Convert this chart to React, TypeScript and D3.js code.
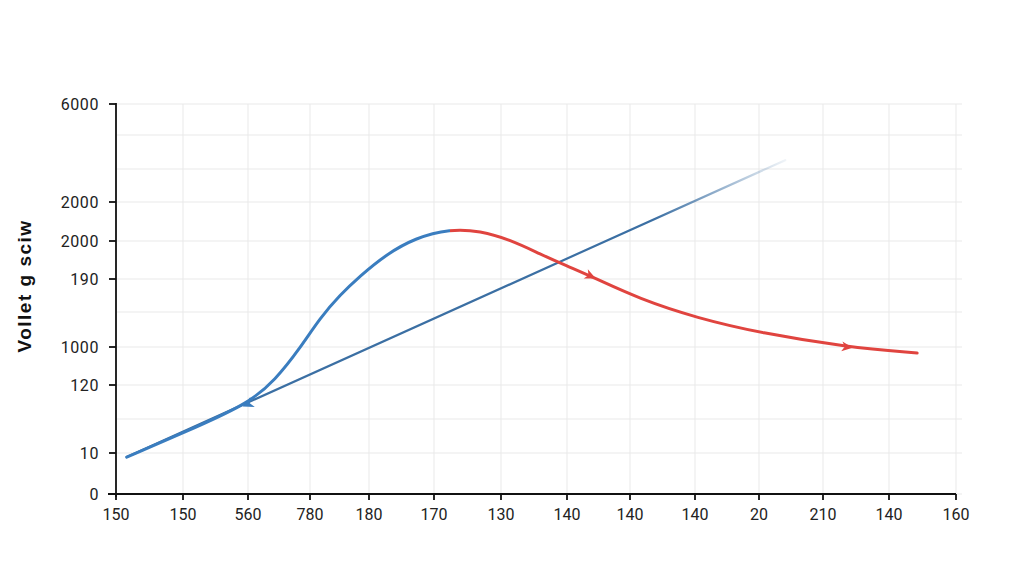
import React from "react";
import * as d3 from "d3";

// ---- data (grid-index units) ----
const xTickLabels = ["150", "150", "560", "780", "180", "170", "130", "140", "140", "140", "20", "210", "140", "160"];
const yTickLabels = ["0", "10", "", "120", "1000", "", "190", "2000", "2000", "", "", "6000"];

const riseX = [0.16, 1.0, 2.0, 2.44, 2.84, 3.17, 3.51, 3.85, 4.25, 4.71, 5.24];
const riseY = [0.9, 1.59, 2.44, 3.13, 3.97, 4.83, 5.52, 6.08, 6.63, 7.08, 7.31];

const fallX = [5.24, 5.69, 6.14, 6.59, 7.0, 7.37, 8.15, 9.03, 10.02, 11.36, 12.42];
const fallY = [7.31, 7.26, 7.03, 6.66, 6.34, 6.08, 5.39, 4.83, 4.4, 4.0, 3.84];

const trendX = [0.16, 10.41];
const trendY = [0.9, 9.26];

const riseArrowIdx = [2];
const fallArrowIdx = [5, 9];

const W = 1024;
const H = 585;

export default function App() {
  // piecewise grid scales (uneven grid spacing as in the original)
  const x = d3
    .scaleLinear()
    .domain(d3.range(14))
    .range([116, 183, 248, 310, 369, 434, 501, 567, 630, 695, 759, 823, 889, 956]);
  const y = d3
    .scaleLinear()
    .domain(d3.range(12))
    .range([494, 453, 419, 385, 347, 312, 279, 241, 202, 169, 135, 104]);

  const rise = riseX.map((v, i) => [v, riseY[i]] as [number, number]);
  const fall = fallX.map((v, i) => [v, fallY[i]] as [number, number]);
  const trend = trendX.map((v, i) => [v, trendY[i]] as [number, number]);
  const combined = rise.concat(fall.slice(1));

  const line = d3
    .line<[number, number]>()
    .x((d) => x(d[0]))
    .y((d) => y(d[1]))
    .curve(d3.curveBasis);
  const straight = d3
    .line<[number, number]>()
    .x((d) => x(d[0]))
    .y((d) => y(d[1]));

  const arrowAt = (pts: [number, number][], i: number) => {
    const p = pts[i];
    const a = pts[Math.max(0, i - 1)];
    const b = pts[Math.min(pts.length - 1, i + 1)];
    const ang = (Math.atan2(y(b[1]) - y(a[1]), x(b[0]) - x(a[0])) * 180) / Math.PI;
    return { cx: x(p[0]), cy: y(p[1]), ang };
  };

  const blue = "#3a7dbf";
  const trendBlue = "#3b6fa3";
  const red = "#e0443f";

  const xs = d3.range(xTickLabels.length);
  const ys = d3.range(yTickLabels.length);
  const font = "Roboto, 'Liberation Sans', Arial, sans-serif";

  const trendAng =
    (Math.atan2(y(trendY[1]) - y(trendY[0]), x(trendX[1]) - x(trendX[0])) * 180) / Math.PI + 180;
  const splitX = x(riseX[riseX.length - 1]);

  return (
    <svg width={W} height={H} style={{ position: "absolute", left: 0, top: 0, background: "#fff" }}>
      <defs>
        <linearGradient id="trendGrad" gradientUnits="userSpaceOnUse" x1={x(trendX[0])} y1={0} x2={x(trendX[1])} y2={0}>
          <stop offset="0%" stopColor={trendBlue} stopOpacity={1} />
          <stop offset="80%" stopColor={trendBlue} stopOpacity={1} />
          <stop offset="100%" stopColor={trendBlue} stopOpacity={0.08} />
        </linearGradient>
        <linearGradient id="curveGrad" gradientUnits="userSpaceOnUse" x1={x(0)} y1={0} x2={x(13)} y2={0}>
          <stop offset={(splitX - x(0)) / (x(13) - x(0))} stopColor={blue} />
          <stop offset={(splitX - x(0)) / (x(13) - x(0))} stopColor={red} />
        </linearGradient>
      </defs>
      {/* grid */}
      <g stroke="#e9e9e9" strokeWidth={1}>
        {ys.map((i) => (
          <line key={"h" + i} x1={x(0)} x2={962} y1={y(i)} y2={y(i)} />
        ))}
        {xs.map((i) => (
          <line key={"v" + i} x1={x(i)} x2={x(i)} y1={y(11)} y2={y(0)} />
        ))}
      </g>

      {/* trend line */}
      <path d={straight(trend) || ""} fill="none" stroke="url(#trendGrad)" strokeWidth={2.2} strokeLinecap="round" />

      {/* rise + fall curve */}
      <path d={line(combined) || ""} fill="none" stroke="url(#curveGrad)" strokeWidth={3} strokeLinecap="round" />

      {/* arrows */}
      {riseArrowIdx.map((i) => {
        const p = arrowAt(rise, i);
        return (
          <path
            key={"ra" + i}
            d="M6,0 L-5,-5.5 L-2,0 L-5,5.5 Z"
            transform={`translate(${p.cx},${p.cy}) rotate(${trendAng})`}
            fill={blue}
          />
        );
      })}
      {fallArrowIdx.map((i) => {
        const p = arrowAt(fall, i);
        return (
          <path
            key={"fa" + i}
            d="M6,0 L-5,-5 L-2,0 L-5,5 Z"
            transform={`translate(${p.cx},${p.cy}) rotate(${p.ang})`}
            fill={red}
          />
        );
      })}

      {/* axes */}
      <g stroke="#111" strokeWidth={1.8}>
        <line x1={x(0)} x2={x(0)} y1={103} y2={497} />
        <line x1={108} x2={x(13)} y1={y(0)} y2={y(0)} />
        {ys.filter((i) => yTickLabels[i] !== "").map((i) => (
          <line key={"yt" + i} x1={x(0) - 7} x2={x(0)} y1={y(i)} y2={y(i)} />
        ))}
        {xs.map((i) => (
          <line key={"xt" + i} x1={x(i)} x2={x(i)} y1={y(0)} y2={y(0) + 6} />
        ))}
      </g>
      <g fontFamily={font} fontSize={16} fill="#222">
        {ys.filter((i) => yTickLabels[i] !== "").map((i) => (
          <text key={"yl" + i} x={99} y={y(i)} dy="0.35em" textAnchor="end" letterSpacing={0.6}>
            {yTickLabels[i]}
          </text>
        ))}
        {xs.map((i) => (
          <text key={"xl" + i} x={x(i)} y={514} dy="0.35em" textAnchor="middle">
            {xTickLabels[i]}
          </text>
        ))}
      </g>
      <text
        transform="translate(24,286) rotate(-90)"
        textAnchor="middle"
        dy="0.35em"
        fontFamily="'Liberation Sans', Arial, sans-serif"
        fontSize={19}
        fontWeight={600}
        letterSpacing={1.5}
        fill="#111"
      >
        Vollet g sciw
      </text>
    </svg>
  );
}
